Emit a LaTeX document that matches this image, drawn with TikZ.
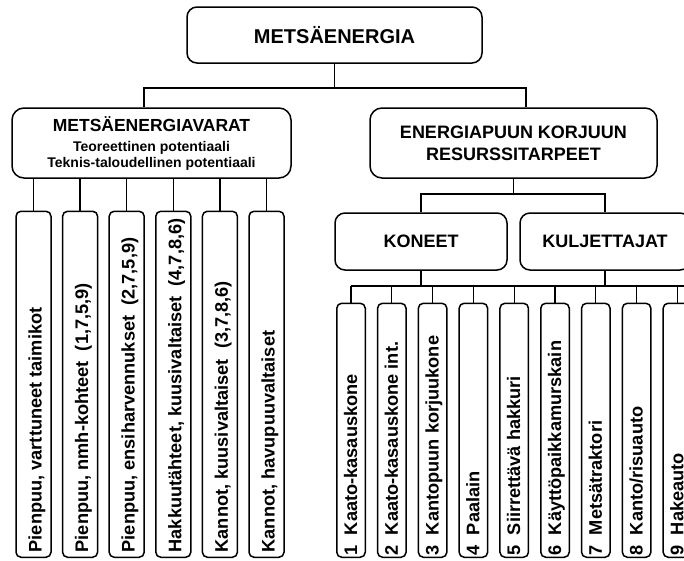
\documentclass[tikz,border=0pt]{standalone}
\usepackage{fontspec}
\setmainfont{Liberation Sans}
\tikzset{
  box/.style={draw, line width=1.5pt, rounded corners=10pt, align=center, inner sep=0pt, font=\bfseries},
  vleft/.style={draw, line width=1.5pt, rounded corners=5pt, rotate=90, anchor=west, inner xsep=5pt, inner ysep=0pt,
     minimum height=35pt, text height=16pt, text depth=0pt,
     font=\bfseries\fontsize{18.2}{20}\selectfont},
  vright/.style={draw, line width=1.5pt, rounded corners=5pt, rotate=90, anchor=west, inner xsep=2pt, inner ysep=0pt,
     minimum height=28.5pt, text height=12pt, text depth=0pt,
     font=\bfseries\fontsize{18.2}{20}\selectfont},
  conn/.style={line width=1.3pt}
}
\begin{document}
\begin{tikzpicture}[x=1pt, y=-1pt]
\clip (0,0) rectangle (684,560);
\fill[white] (0,0) rectangle (684,560);
% top
\node[box, minimum width=295pt, minimum height=56pt, font=\bfseries\fontsize{20}{24}\selectfont] (top) at (334.5,35) {METSÄENERGIA};
\node[box, rounded corners=12pt, minimum width=279pt, minimum height=70pt, font=\bfseries\fontsize{14}{16}\selectfont] (varat) at (151.5,143)
  {{\fontsize{17.5}{20}\selectfont METSÄENERGIAVARAT}\\[4pt]Teoreettinen potentiaali\\Teknis-taloudellinen potentiaali};
\node[box, rounded corners=12pt, minimum width=287pt, minimum height=70pt, font=\bfseries\fontsize{18}{22}\selectfont] (resurssi) at (513.5,143)
  {ENERGIAPUUN KORJUUN\\RESURSSITARPEET};
\node[box, minimum width=172pt, minimum height=57pt, font=\bfseries\fontsize{18}{22}\selectfont] (koneet) at (421,241.5) {KONEET};
\node[box, minimum width=170pt, minimum height=57pt, font=\bfseries\fontsize{18}{22}\selectfont] (kulj) at (605,241.5) {KULJETTAJAT};

% connectors top
\coordinate (j0) at (334.5,88);
\draw[conn] (top.south) -- (j0);
\draw[conn] (varat.north -| 144,0) |- (j0) -| (resurssi.north -| 526,0);

% left vertical boxes
\foreach \i/\t in {0/{Pienpuu, varttuneet taimikot},
                   1/{Pienpuu, nmh-kohteet\ \ (1,7,5,9)},
                   2/{Pienpuu, ensiharvennukset\ \ (2,7,5,9)},
                   3/{Hakkuutähteet, kuusivaltaiset\ \ (4,7,8,6)},
                   4/{Kannot, kuusivaltaiset\ \ (3,7,8,6)},
                   5/{Kannot, havupuuvaltaiset}}{
  \node[vleft] (L\i) at (33.5+46.6*\i,558) {\makebox[336pt][l]{\t}};
  \draw[conn] (L\i.east |- varat.south) -- (L\i.east);
}

% right side
\coordinate (j1) at (513.5,194);
\draw[conn] (resurssi.south) -- (j1);
\draw[conn] (koneet.north) |- (j1) -| (kulj.north);

\foreach \i/\t in {0/{1\ \ Kaato-kasauskone},
                   1/{2\ \ Kaato-kasauskone int.},
                   2/{3\ \ Kantopuun korjuukone},
                   3/{4\ \ Paalain},
                   4/{5\ \ Siirrettävä hakkuri},
                   5/{6\ \ Käyttöpaikkamurskain},
                   6/{7\ \ Metsätraktori},
                   7/{8\ \ Kanto/risuauto},
                   8/{9\ \ Hakeauto}}{
  \node[vright] (R\i) at (351+40.8*\i,558) {\makebox[250pt][l]{\t}};
}
\coordinate (j2) at (421,286);
\draw[conn] (koneet.south) -- (j2);
\draw[conn] (kulj.south) -- (kulj.south |- j2);
\draw[conn] (R0.east |- j2) -- (700,286);
\foreach \i in {0,...,8}{
  \draw[conn] (R\i.east |- j2) -- (R\i.east);
}
\end{tikzpicture}
\end{document}
